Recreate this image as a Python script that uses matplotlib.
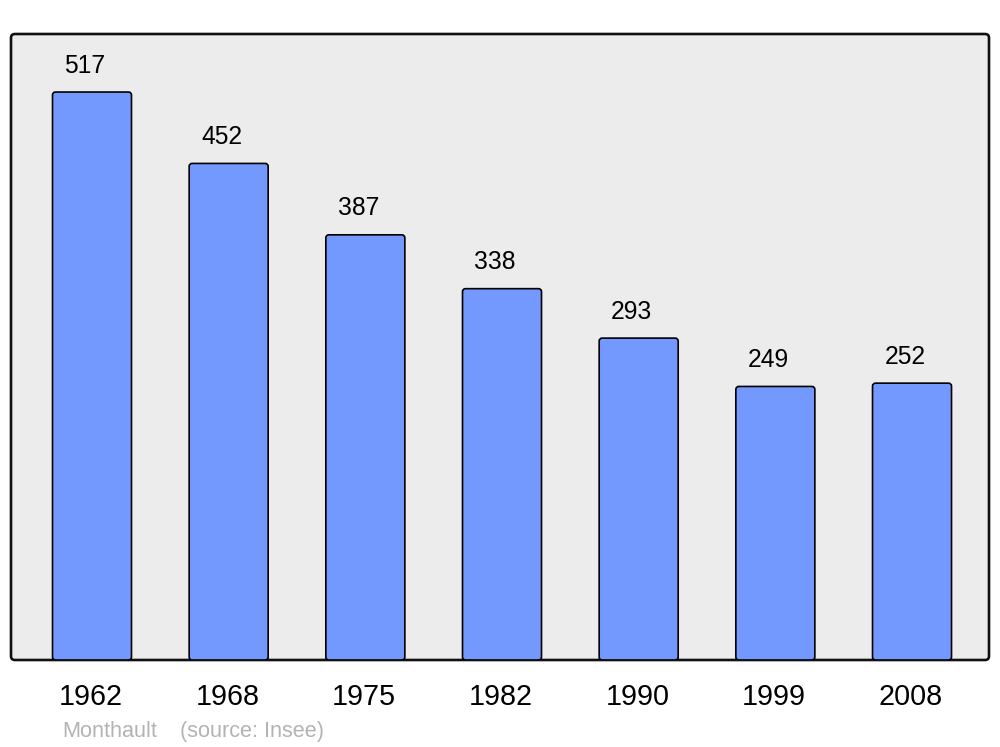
import matplotlib
matplotlib.use('Agg')
import matplotlib.pyplot as plt
from matplotlib.patches import FancyBboxPatch

plt.rcParams['font.family'] = ['Liberation Sans', 'DejaVu Sans']

# population data
years = ['1962', '1968', '1975', '1982', '1990', '1999', '2008']
population = [517, 452, 387, 338, 293, 249, 252]
commune = 'Monthault'
source = '(source: Insee)'

W, H = 1000, 747
fig = plt.figure(figsize=(W / 100, H / 100), dpi=100)
# axes placed over the grey frame (pixel coords)
left, right, top, bottom = 11, 989, 34, 660
ax = fig.add_axes([left / W, 1 - bottom / H, (right - left) / W, (bottom - top) / H])

px_per_unit = 1.0986
step = 136.67
ax.set_ylim(0, (bottom - top) / px_per_unit)
ax.set_xlim((left - 92) / step, (right - 92) / step)
ax.axis('off')

# rounded grey frame
frame = FancyBboxPatch((0, 0), 1, 1, boxstyle='round,pad=0,rounding_size=0.004',
                       mutation_aspect=(right - left) / (bottom - top),
                       transform=ax.transAxes, facecolor='#ececec',
                       edgecolor='#111111', linewidth=1.9, clip_on=False, zorder=0)
ax.add_patch(frame)

xs = list(range(len(years)))
bars = ax.bar(xs, population, width=79 / step, color='#7399ff')
rx = 3 / step
aspect = (1 / px_per_unit) / (1 / step)
for b in bars:
    b.set_visible(False)
    p = FancyBboxPatch((b.get_x(), 0), b.get_width(), b.get_height(),
                       boxstyle='round,pad=0,rounding_size=%f' % rx,
                       mutation_aspect=aspect, facecolor='#7399ff',
                       edgecolor='black', linewidth=1.2, zorder=2)
    ax.add_patch(p)

for x, v, y in zip(xs, population, years):
    ax.annotate(str(v), (x, v), xytext=(-5, 14), textcoords='offset points',
                ha='center', va='baseline', fontsize=17.7)
    ax.annotate(y, (x, 0), xytext=(-1, -32.4), textcoords='offset points',
                ha='center', va='baseline', fontsize=20.7, annotation_clip=False)

fig.text(62 / W, 1 - 737 / H, commune, fontsize=15.6, color='#b3b3b3', va='baseline')
fig.text(180 / W, 1 - 737 / H, source, fontsize=15.6, color='#b3b3b3', va='baseline')

fig.savefig('out.png', dpi=100)
